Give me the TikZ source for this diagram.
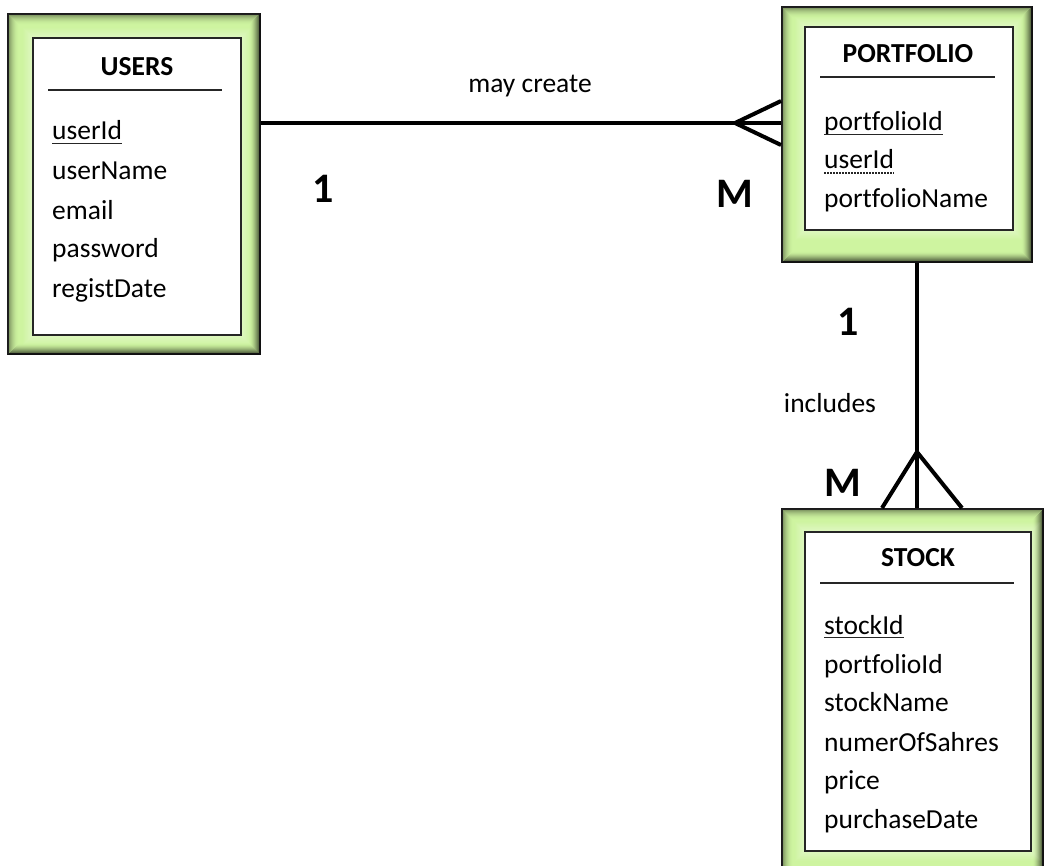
\documentclass[tikz,border=0pt]{standalone}
\usepackage{fontspec}
\setmainfont[Ligatures=NoCommon]{Carlito}
\usetikzlibrary{calc}
\definecolor{boxgreen}{RGB}{206,244,160}
\newcommand\glowbox[2]{%
  \foreach \i in {1,...,12}{%
    \pgfmathsetmacro\op{0.6*(1-\i/13)^2}
    \draw[black, opacity=\op, line width=1pt] ([shift={(\i-0.5,\i-0.5)}]#1.north west) rectangle ([shift={(-\i+0.5,-\i+0.5)}]#1.south east);
  }%
  \foreach \i in {1,...,10}{%
    \pgfmathsetmacro\op{0.45*(1-\i/11)^1.5}
    \draw[black, opacity=\op, line width=1pt] ([shift={(\i-0.5,-\i+0.5)}]#1.south west) -- ([shift={(-\i+0.5,-\i+0.5)}]#1.south east) -- ([shift={(-\i+0.5,\i-0.5)}]#1.north east);
  }%
  \foreach \i in {1,...,9}{%
    \pgfmathsetmacro\op{0.35*(1-\i/10)}
    \draw[white, opacity=\op, line width=1pt] ([shift={(-\i+0.5,-\i+0.5)}]#2.north west) rectangle ([shift={(\i-0.5,\i-0.5)}]#2.south east);
  }%
}
\begin{document}
\begin{tikzpicture}[x=1pt,y=-1pt,
  outerbox/.style={draw=black!78, line width=2pt, fill=boxgreen, inner sep=0pt},
  innerbox/.style={draw=black!85, line width=1.2pt, fill=white, inner sep=0pt},
  title/.style={font=\fontsize{27.5}{30}\selectfont\bfseries, inner sep=0pt, anchor=base},
  attr/.style={font=\fontsize{27.5}{32}\selectfont, inner sep=0pt, anchor=base west},
  rulel/.style={line width=1.2pt, black!85},
  ul/.style={line width=1.3pt, black!85},
  conn/.style={line width=4pt, black},
  card/.style={font=\fontsize{42}{46}\selectfont\bfseries, inner sep=0pt},
  lbl/.style={font=\fontsize{27.5}{32}\selectfont, inner sep=0pt}]
\useasboundingbox (0,0) rectangle (1044,866);
\clip (0,0) rectangle (1044,866);

% ---------- USERS ----------
\node[outerbox, minimum width=252pt, minimum height=340pt] (users) at (134,184) {};
\node[innerbox, minimum width=208pt, minimum height=297pt] (usersIn) at (137,186.5) {};
\glowbox{users}{usersIn}
\node[innerbox, minimum width=208pt, minimum height=297pt] at (137,186.5) {};
\node[title] (usersT) at (137,76) {USERS};
\draw[rulel] (48,90) -- (222,90);
\node[attr] (u1) at (52,140) {userId};
\node[attr] (u2) at (52,180) {userName};
\node[attr] (u3) at (52,220) {email};
\node[attr] (u4) at (52,258) {password};
\node[attr] (u5) at (52,298) {registDate};
\draw[ul] ([yshift=-3.5pt]u1.base west) -- ([yshift=-3.5pt]u1.base east);

% ---------- PORTFOLIO ----------
\node[outerbox, minimum width=250pt, minimum height=255pt] (portfolio) at (907,134.5) {};
\node[innerbox, minimum width=208pt, minimum height=203pt] (portIn) at (909,128.5) {};
\glowbox{portfolio}{portIn}
\node[innerbox, minimum width=208pt, minimum height=203pt] at (909,128.5) {};
\node[title] (portT) at (908,63) {PORTFOLIO};
\draw[rulel] (820,77) -- (995,77);
\node[attr] (p1) at (824,131) {portfolioId};
\node[attr] (p2) at (824,169) {userId};
\node[attr] (p3) at (824,208) {portfolioName};
\draw[ul] ([yshift=-3.5pt]p1.base west) -- ([yshift=-3.5pt]p1.base east);
\draw[line width=1.2pt, black!85, dash pattern=on 1.5pt off 1.5pt] ([yshift=-4pt]p2.base west) -- ([yshift=-4pt]p2.base east);

% ---------- STOCK ----------
\node[outerbox, minimum width=261pt, minimum height=371pt] (stock) at (912.5,694.5) {};
\node[innerbox, minimum width=226pt, minimum height=319pt] (stockIn) at (918,691.5) {};
\glowbox{stock}{stockIn}
\node[innerbox, minimum width=226pt, minimum height=319pt] at (918,691.5) {};
\node[title] (stockT) at (918,566) {STOCK};
\draw[rulel] (820,583) -- (1014,583);
\node[attr] (s1) at (824,634) {stockId};
\node[attr] (s2) at (824,673) {portfolioId};
\node[attr] (s3) at (824,711) {stockName};
\node[attr] (s4) at (824,751) {numerOfSahres};
\node[attr] (s5) at (824,789) {price};
\node[attr] (s6) at (824,828) {purchaseDate};
\draw[ul] ([yshift=-3.5pt]s1.base west) -- ([yshift=-3.5pt]s1.base east);

% ---------- USERS -- PORTFOLIO ----------
\coordinate (h) at (0,123);
\coordinate (hA) at (735,123);
\draw[conn] (users.east |- h) -- (portfolio.west |- h);
\draw[conn] (portfolio.west |- 0,101) -- (hA) -- (portfolio.west |- 0,145);
\node[lbl] (mc) at (530,86) {may create};
\node[card] (c1) at (323,189) {1};
\node[card] (cM) at (735,194) {M};

% ---------- PORTFOLIO -- STOCK ----------
\coordinate (v) at (917,0);
\coordinate (vA) at (917,452);
\draw[conn] (portfolio.south -| v) -- (stock.north -| v);
\draw[conn] (stock.north -| 882,0) -- (vA) -- (stock.north -| 962,0);
\node[card] (c2) at (848,322) {1};
\node[lbl] (inc) at (830,403) {includes};
\node[card] (cM2) at (843,483) {M};
\end{tikzpicture}
\end{document}
